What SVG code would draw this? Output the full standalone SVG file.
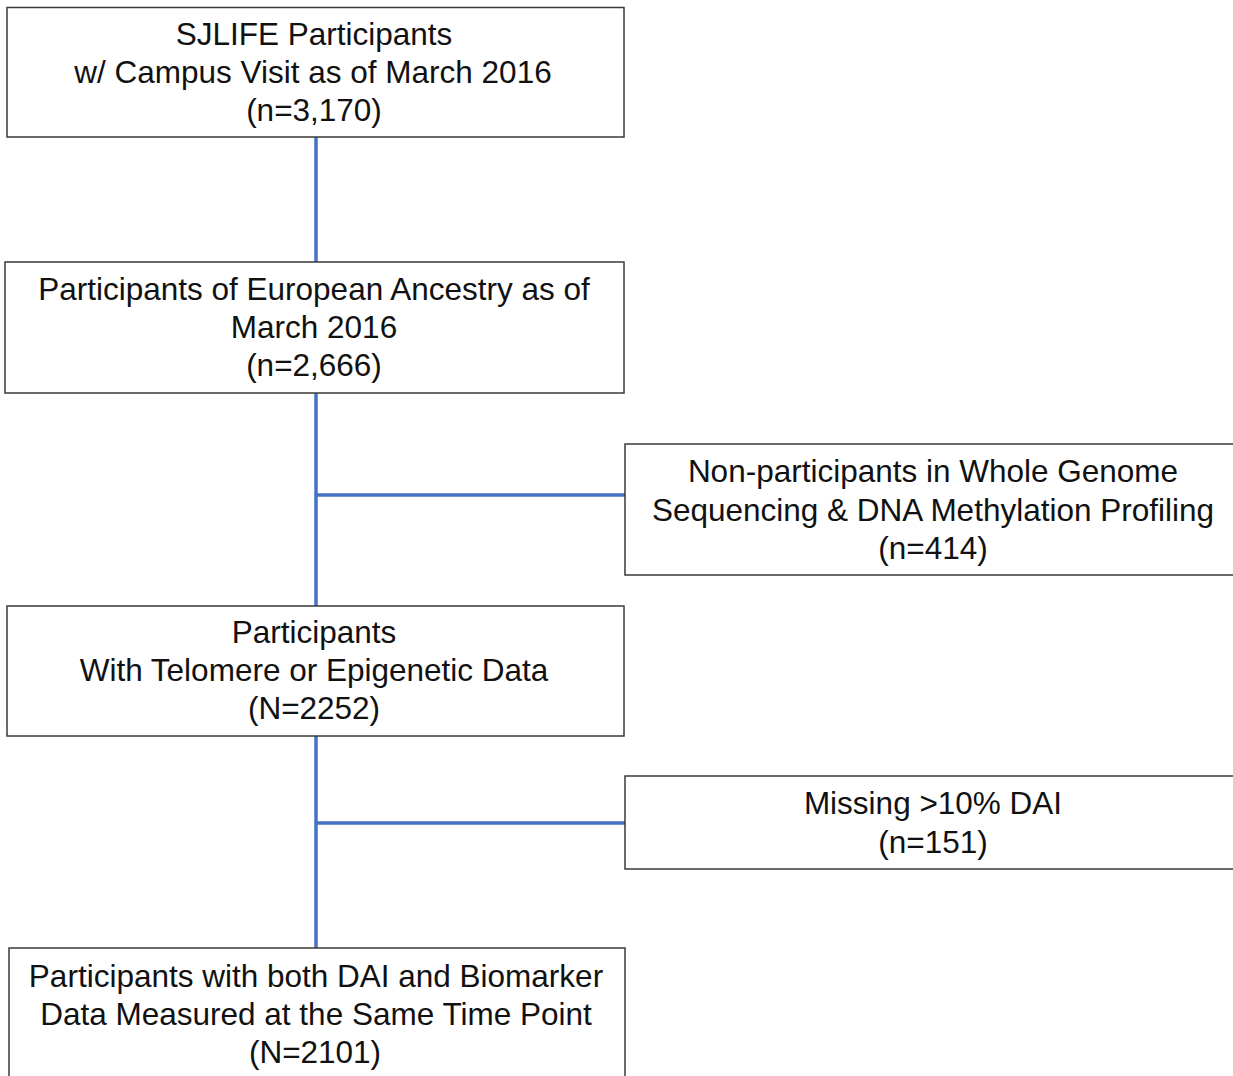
<svg xmlns="http://www.w3.org/2000/svg" width="1233" height="1076" viewBox="0 0 1233 1076">
<style>
.box{fill:#fff;stroke:#3a3a3a;stroke-width:1.5}
.t{font-family:"Liberation Sans",Arial,sans-serif;font-size:31.5px;fill:#111;text-anchor:middle}
.c{stroke:#4472C4;stroke-width:3.5;fill:none}
</style>
<rect width="1233" height="1076" fill="#fff"/>
<g id="connectors">
<line class="c" x1="316" y1="137" x2="316" y2="948"/>
<line class="c" x1="316" y1="495" x2="625" y2="495"/>
<line class="c" x1="316" y1="823" x2="625" y2="823"/>
</g>
<g id="n1">
<rect class="box" x="7" y="7.5" width="617" height="129.5"/>
<text class="t" x="314" y="45">SJLIFE Participants</text>
<text class="t" x="313" y="83">w/ Campus Visit as of March 2016</text>
<text class="t" x="314" y="121">(n=3,170)</text>
</g>
<g id="n2">
<rect class="box" x="5" y="262" width="619" height="131"/>
<text class="t" x="314" y="300">Participants of European Ancestry as of</text>
<text class="t" x="314" y="338">March 2016</text>
<text class="t" x="314" y="376">(n=2,666)</text>
</g>
<g id="n3">
<rect class="box" x="625" y="444" width="612" height="131"/>
<text class="t" x="933" y="482">Non-participants in Whole Genome</text>
<text class="t" x="933" y="521">Sequencing &amp; DNA Methylation Profiling</text>
<text class="t" x="933" y="559">(n=414)</text>
</g>
<g id="n4">
<rect class="box" x="7" y="606" width="617" height="130"/>
<text class="t" x="314" y="643">Participants</text>
<text class="t" x="314" y="681">With Telomere or Epigenetic Data</text>
<text class="t" x="314" y="719">(N=2252)</text>
</g>
<g id="n5">
<rect class="box" x="625" y="776" width="612" height="93"/>
<text class="t" x="933" y="814">Missing &gt;10% DAI</text>
<text class="t" x="933" y="853">(n=151)</text>
</g>
<g id="n6">
<rect class="box" x="9" y="948" width="616" height="140"/>
<text class="t" x="316" y="987">Participants with both DAI and Biomarker</text>
<text class="t" x="316" y="1025">Data Measured at the Same Time Point</text>
<text class="t" x="315" y="1063">(N=2101)</text>
</g>
</svg>
